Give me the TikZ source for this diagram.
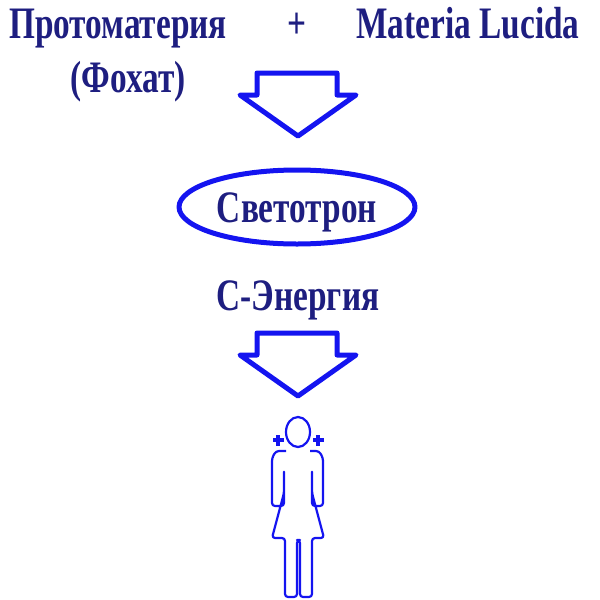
\documentclass[tikz,border=0pt]{standalone}
\usepackage{fontspec}
\setmainfont{Liberation Serif}
\usetikzlibrary{shapes.geometric}
\begin{document}
\begin{tikzpicture}[x=1pt,y=-1pt,
  txt/.style={text=navy,font=\bfseries\fontsize{45}{48}\selectfont,inner sep=0pt,anchor=base,xscale=0.74},
  shp/.style={draw=myblue,line width=5pt,line join=round},
  fig/.style={draw=myblue,line width=2.2pt,line join=round,rounded corners=3pt}]
\definecolor{navy}{HTML}{1E1E80}
\definecolor{myblue}{HTML}{1414F0}
\useasboundingbox (0,0) rectangle (600,600);
\node[txt] (p) at (118,38) {Протоматерия};
\node[txt] (plus) at (297,38) {+};
\node[txt] (m) at (468,38) {Materia Lucida};
\node[txt] (f) at (128,92) {(Фохат)};
\draw[shp] (257,73) -- (337,73) -- (337,95) -- (356,95) -- (298,136) -- (240,95) -- (257,95) -- cycle;
\node[shp,ellipse,minimum width=236pt,minimum height=74pt,inner sep=0pt] (s) at (297,207) {};
\node[txt] (st) at (s.center) [yshift=-15pt] {Светотрон};
\node[txt] (e) at (298,310) {С-Энергия};
\draw[shp] (257,333) -- (337,333) -- (337,355) -- (356,355) -- (298,396) -- (240,355) -- (257,355) -- cycle;
\draw[fig] (298,432) ellipse (12 and 15);
\draw[fig] (286,451) -- (276,451) -- (272,458) -- (272,506) -- (284,506) -- (284,470) -- (284,493) -- (272,538) -- (285,538) -- (285,597) -- (297,597) -- (297,540) -- (300,540) -- (300,597) -- (312,597) -- (312,538) -- (324,538) -- (312,493) -- (312,470) -- (312,506) -- (323,506) -- (323,458) -- (319,451) -- (310,451);
\foreach \cx/\nm in {278/l,318/r}{
  \fill[myblue] (\cx-5.5,440-2) rectangle (\cx+5.5,440+2);
  \fill[myblue] (\cx-2,440-5.5) rectangle (\cx+2,440+5.5);
  \coordinate (\nm) at (\cx,440);}
\end{tikzpicture}
\end{document}
